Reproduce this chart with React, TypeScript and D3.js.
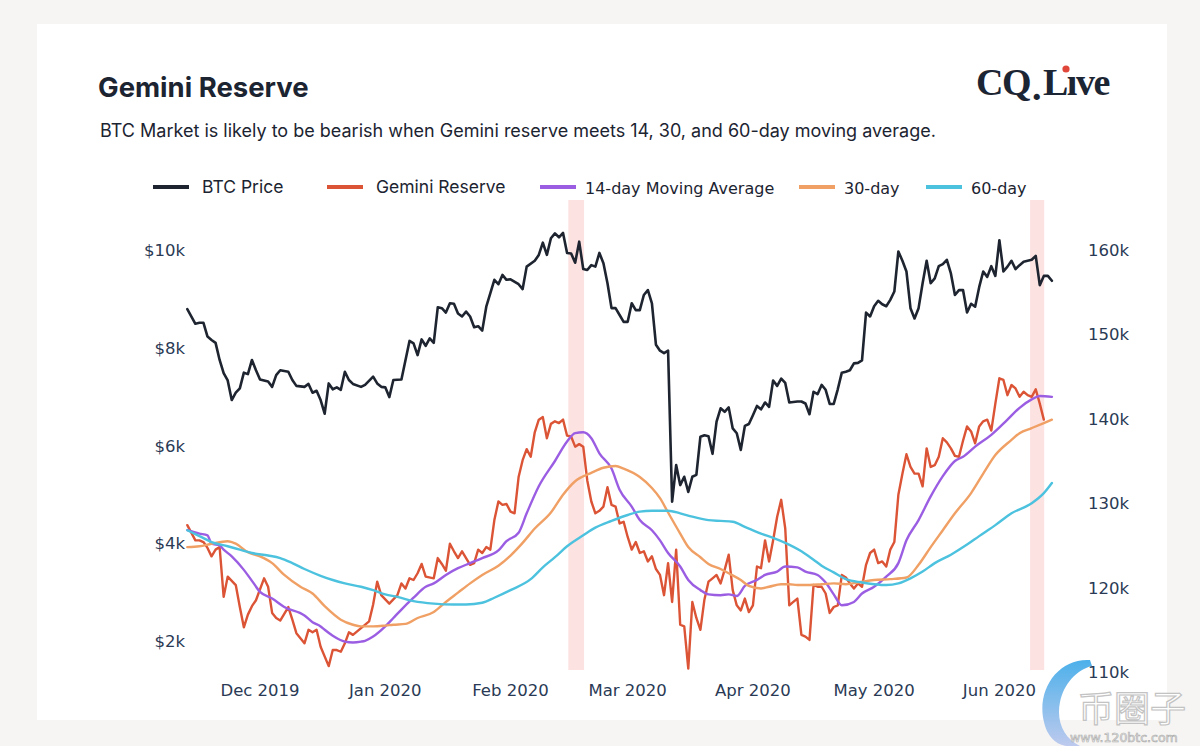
import React from "react";
import * as d3 from "d3";

// ---------- DATA (day offset from 2019-11-13, value) ----------
const START = Date.UTC(2019, 10, 13);

// BTC price, thousands of USD
const btcPrice: [number, number][] = [
  [0, 8.79], [2, 8.49], [3, 8.51], [4, 8.51], [5, 8.23], [6, 8.16], [7, 8.1], [8, 7.75], [9, 7.48], [10, 7.33],
  [11, 6.93], [12, 7.08], [13, 7.17], [14, 7.49], [15, 7.46], [16, 7.75], [17, 7.54], [18, 7.35], [20, 7.31],
  [21, 7.2], [22, 7.44], [23, 7.54], [25, 7.51], [26, 7.34], [27, 7.22], [29, 7.2], [30, 7.26], [31, 7.08],
  [32, 7.12], [33, 6.93], [34, 6.65], [35, 7.27], [36, 7.15], [37, 7.19], [38, 7.14], [39, 7.51], [40, 7.34],
  [41, 7.26], [43, 7.2], [44, 7.24], [46, 7.41], [47, 7.27], [48, 7.2], [49, 7.19], [50, 6.99], [51, 7.34],
  [53, 7.35], [55, 8.14], [56, 8.09], [57, 7.85], [58, 8.17], [59, 8.04], [60, 8.19], [61, 8.1], [62, 8.83],
  [63, 8.81], [64, 8.72], [65, 8.91], [66, 8.9], [67, 8.7], [68, 8.64], [69, 8.74], [70, 8.64], [71, 8.42],
  [72, 8.44], [73, 8.35], [74, 8.84], [76, 9.39], [77, 9.3], [78, 9.49], [79, 9.39], [80, 9.4], [82, 9.3],
  [83, 9.2], [84, 9.66], [86, 9.78], [87, 9.9], [88, 10.15], [89, 9.9], [90, 10.24], [91, 10.34], [92, 10.26],
  [93, 10.35], [94, 9.94], [95, 9.93], [96, 9.74], [97, 10.17], [98, 9.61], [99, 9.59], [100, 9.69], [101, 9.66],
  [102, 9.94], [103, 9.73], [104, 9.32], [105, 8.81], [106, 8.81], [107, 8.67], [108, 8.53], [109, 8.53],
  [110, 8.91], [111, 8.77], [112, 8.77], [113, 9.08], [114, 9.18], [115, 8.91], [116, 8.06], [117, 7.94],
  [118, 7.89], [119, 7.94], [120, 4.85], [121, 5.6], [122, 5.19], [123, 5.36], [124, 5.05], [125, 5.36],
  [126, 5.4], [127, 6.18], [128, 6.21], [129, 6.19], [130, 5.83], [131, 6.49], [132, 6.76], [133, 6.69],
  [134, 6.78], [135, 6.35], [136, 6.25], [137, 5.91], [138, 6.4], [139, 6.44], [140, 6.62], [141, 6.81],
  [142, 6.74], [143, 6.88], [144, 6.79], [145, 7.33], [146, 7.22], [147, 7.37], [148, 7.28], [149, 6.88],
  [151, 6.9], [152, 6.9], [153, 6.86], [154, 6.64], [155, 7.1], [156, 7.05], [157, 7.24], [158, 7.14],
  [159, 6.85], [160, 6.85], [161, 7.15], [162, 7.49], [163, 7.51], [164, 7.54], [165, 7.68], [166, 7.69],
  [167, 7.74], [168, 8.72], [169, 8.64], [170, 8.85], [171, 8.96], [172, 8.89], [173, 8.85], [174, 8.98],
  [175, 9.15], [176, 9.97], [177, 9.78], [178, 9.56], [179, 8.81], [180, 8.6], [181, 8.81], [182, 9.32],
  [183, 9.78], [184, 9.32], [185, 9.42], [186, 9.67], [187, 9.71], [188, 9.8], [189, 9.52], [190, 9.08],
  [191, 9.18], [192, 9.18], [193, 8.72], [194, 8.9], [195, 8.84], [196, 9.24], [197, 9.56], [198, 9.45],
  [199, 9.67], [200, 9.47], [201, 10.2], [202, 9.56], [203, 9.66], [204, 9.78], [205, 9.61], [206, 9.69],
  [207, 9.76], [208, 9.78], [209, 9.8], [210, 9.88], [211, 9.28], [212, 9.47], [213, 9.47], [214, 9.37],
];

// Gemini reserve, thousands of BTC
const geminiReserve: [number, number][] = [
  [0, 127.4], [2, 125.6], [3, 125.6], [4, 125.4], [5, 124.7], [6, 123.7], [7, 124.5], [8, 124.8], [9, 118.9],
  [10, 121.3], [12, 120.3], [13, 117.7], [14, 115.3], [15, 116.8], [16, 117.8], [17, 118.5], [19, 121.1],
  [20, 120.1], [21, 117.0], [22, 116.4], [23, 116.1], [25, 117.7], [26, 116.2], [27, 114.6], [29, 113.4],
  [30, 115.0], [31, 114.7], [32, 115.0], [33, 113.0], [35, 110.7], [36, 112.6], [37, 112.6], [38, 112.4],
  [39, 113.4], [40, 114.7], [41, 114.4], [43, 115.2], [45, 116.0], [46, 118.0], [47, 120.7], [48, 119.1],
  [50, 118.1], [52, 119.1], [53, 120.5], [54, 119.9], [55, 121.1], [56, 120.9], [57, 121.7], [58, 122.8],
  [59, 121.3], [61, 121.1], [62, 123.5], [63, 122.8], [64, 122.0], [65, 125.2], [66, 124.3], [67, 123.5],
  [68, 124.3], [69, 123.5], [70, 122.7], [71, 122.9], [72, 124.5], [73, 124.1], [74, 124.8], [75, 124.5],
  [76, 128.0], [77, 130.2], [78, 129.8], [79, 129.9], [80, 129.0], [81, 128.8], [82, 133.1], [83, 135.1],
  [84, 136.4], [85, 135.5], [86, 138.4], [87, 139.9], [88, 140.2], [89, 137.7], [90, 139.4], [91, 139.7],
  [92, 139.5], [93, 139.9], [94, 138.0], [95, 137.9], [96, 136.7], [97, 137.0], [98, 136.7], [99, 132.7],
  [100, 130.2], [101, 128.8], [102, 129.1], [103, 129.6], [104, 131.9], [105, 129.8], [106, 129.6],
  [107, 127.6], [108, 127.8], [109, 126.0], [110, 124.5], [111, 125.4], [112, 124.1], [113, 124.3],
  [114, 123.1], [115, 123.7], [116, 122.2], [117, 121.5], [118, 119.1], [119, 122.9], [120, 118.3],
  [121, 124.5], [122, 115.6], [123, 115.4], [124, 110.4], [125, 118.3], [126, 116.4], [127, 115.0],
  [128, 118.6], [129, 120.7], [130, 121.1], [131, 121.5], [132, 120.5], [133, 122.1], [134, 123.9],
  [135, 119.7], [136, 117.9], [137, 117.3], [138, 118.7], [139, 117.1], [140, 117.9], [141, 122.5],
  [142, 122.3], [143, 125.6], [144, 123.1], [145, 125.6], [146, 128.4], [147, 130.4], [148, 127.0],
  [149, 117.9], [150, 118.3], [151, 118.7], [152, 114.4], [153, 114.2], [154, 113.8], [155, 120.3],
  [156, 120.1], [157, 120.1], [158, 119.3], [159, 117.0], [160, 117.7], [161, 117.9], [162, 121.5],
  [163, 121.2], [164, 120.5], [165, 119.9], [166, 120.5], [167, 120.1], [168, 122.7], [169, 124.1],
  [170, 124.5], [171, 122.9], [172, 123.1], [173, 122.5], [174, 124.5], [175, 125.4], [176, 131.0],
  [177, 133.5], [178, 135.8], [179, 134.3], [180, 133.5], [181, 133.5], [182, 132.0], [183, 136.5],
  [184, 134.3], [185, 134.5], [186, 135.5], [187, 137.7], [188, 137.2], [189, 136.5], [190, 135.6],
  [191, 135.5], [192, 137.4], [193, 139.1], [194, 138.5], [195, 137.1], [196, 139.1], [197, 139.7],
  [198, 139.9], [199, 138.6], [200, 141.8], [201, 144.8], [202, 144.6], [203, 142.8], [204, 144.0],
  [205, 143.6], [206, 142.6], [207, 143.2], [208, 142.8], [209, 142.6], [210, 143.5], [211, 141.8],
  [212, 139.9],
];

const ma14: [number, number][] = [
  [0, 126.8], [3, 126.4], [5, 126.2], [6, 125.2], [8, 125.0], [9, 124.5], [11, 123.7], [14, 122.1],
  [16, 120.8], [18, 119.5], [21, 118.7], [24, 117.7], [29, 116.7], [31, 115.9], [33, 115.4], [34, 115.0],
  [36, 114.3], [39, 113.6], [41, 113.5], [43, 113.6], [44, 113.7], [46, 114.2], [49, 115.4], [51, 116.4],
  [53, 117.4], [56, 118.8], [59, 120.1], [61, 120.5], [64, 121.5], [67, 122.3], [70, 122.9], [73, 123.5],
  [77, 124.4], [79, 125.5], [82, 126.5], [84, 128.8], [87, 132.0], [91, 135.0], [94, 137.3], [96, 138.3],
  [98, 138.4], [100, 137.7], [102, 135.9], [105, 134.1], [107, 131.6], [110, 129.6], [112, 128.0],
  [115, 126.8], [117, 125.6], [119, 124.1], [122, 122.5], [124, 120.9], [127, 119.7], [129, 119.2],
  [132, 119.1], [134, 119.2], [136, 119.0], [138, 120.2], [141, 120.9], [143, 121.5], [146, 121.9],
  [148, 122.5], [151, 122.4], [153, 121.9], [156, 121.5], [158, 120.6], [160, 119.2], [162, 117.9],
  [165, 118.3], [167, 119.3], [170, 120.1], [173, 121.3], [176, 122.9], [178, 125.6], [181, 128.0],
  [184, 130.8], [187, 133.2], [190, 135.0], [192, 135.5], [195, 136.7], [199, 138.1], [203, 139.9],
  [206, 141.3], [209, 142.3], [211, 142.7], [214, 142.6],
];

const ma30: [number, number][] = [
  [0, 124.8], [3, 124.9], [6, 125.2], [10, 125.5], [12, 125.2], [15, 124.2], [18, 123.7], [21, 122.9],
  [24, 121.5], [28, 120.1], [31, 119.3], [34, 117.8], [38, 116.2], [41, 115.6], [43, 115.4], [46, 115.4],
  [49, 115.5], [51, 115.6], [54, 115.7], [57, 116.4], [61, 117.1], [64, 118.3], [67, 119.4], [70, 120.5],
  [73, 121.5], [77, 122.6], [80, 123.8], [83, 125.3], [86, 127.0], [90, 128.9], [93, 131.0], [96, 132.6],
  [100, 133.6], [103, 134.2], [106, 134.4], [108, 134.1], [112, 133.1], [115, 131.8], [117, 130.6],
  [119, 128.9], [122, 126.4], [124, 124.8], [127, 123.6], [129, 122.8], [132, 122.2], [134, 121.7],
  [137, 120.9], [139, 120.2], [142, 119.9], [144, 120.1], [147, 120.4], [149, 120.4], [151, 120.3],
  [154, 120.3], [157, 120.4], [160, 120.5], [163, 120.4], [166, 120.6], [170, 120.9], [174, 121.0],
  [178, 121.2], [181, 122.7], [184, 124.8], [187, 126.8], [190, 128.8], [194, 131.2], [197, 133.5],
  [200, 135.7], [204, 137.5], [206, 138.3], [209, 138.9], [212, 139.5], [214, 139.9],
];

const ma60: [number, number][] = [
  [0, 126.8], [3, 126.1], [6, 125.4], [10, 124.9], [13, 124.5], [16, 124.1], [20, 123.8], [23, 123.5],
  [26, 122.9], [29, 122.2], [33, 121.4], [36, 120.9], [39, 120.5], [43, 120.1], [46, 119.7], [49, 119.2],
  [52, 118.9], [56, 118.4], [61, 118.1], [66, 118.0], [69, 118.0], [73, 118.2], [76, 118.8], [80, 119.7],
  [85, 121.0], [88, 122.4], [91, 123.6], [94, 124.9], [98, 126.2], [101, 127.1], [105, 127.9], [109, 128.6],
  [112, 129.0], [115, 129.1], [119, 129.1], [122, 128.8], [125, 128.4], [129, 128.0], [132, 127.9],
  [135, 127.8], [138, 127.2], [142, 126.4], [145, 125.9], [148, 125.3], [152, 124.3], [155, 123.3],
  [157, 122.6], [160, 121.8], [163, 121.0], [167, 120.6], [170, 120.4], [173, 120.3], [176, 120.5],
  [179, 121.1], [182, 121.9], [185, 122.9], [189, 123.9], [193, 125.1], [196, 126.1], [200, 127.4],
  [204, 128.8], [209, 130.0], [212, 131.2], [214, 132.4],
];

// highlighted periods (day offsets)
const bands: [number, number][] = [[94.3, 98.2], [208.6, 212.1]];

const leftTicks = [2, 4, 6, 8, 10];
const rightTicks = [110, 120, 130, 140, 150, 160];
const monthTicks = ["2019-12-01", "2020-01-01", "2020-02-01", "2020-03-01", "2020-04-01", "2020-05-01", "2020-06-01"];

const legendItems = [
  { label: "BTC Price", color: "#1e2530", x: 153, font: "Inter" },
  { label: "Gemini Reserve", color: "#dc5436", x: 327, font: "Inter" },
  { label: "14-day Moving Average", color: "#9b5ee3", x: 540, font: "DejaVu Sans" },
  { label: "30-day", color: "#f0a064", x: 799, font: "DejaVu Sans" },
  { label: "60-day", color: "#4cc2df", x: 926, font: "DejaVu Sans" },
];

// ---------- CHART ----------
const W = 1200, H = 746;
const dayToDate = (d: number) => new Date(START + d * 86400000);

export default function App() {
  const x = d3.scaleUtc().domain([dayToDate(0), dayToDate(214)]).range([187.3, 1051.9]);
  const yL = d3.scaleLinear().domain([0, 10]).range([738.75, 250]);
  const yR = d3.scaleLinear().domain([110, 160]).range([672, 250]);
  const plotTop = 200, plotBottom = 672;

  const lineL = d3.line<[number, number]>().x(d => x(dayToDate(d[0]))).y(d => yL(d[1]));
  const lineR = d3.line<[number, number]>().x(d => x(dayToDate(d[0]))).y(d => yR(d[1]));
  const smoothR = d3.line<[number, number]>().x(d => x(dayToDate(d[0]))).y(d => yR(d[1])).curve(d3.curveMonotoneX);

  const tickFont = "DejaVu Sans, Verdana, sans-serif";
  const tickColor = "#2a3a55";
  const fmtMonth = d3.utcFormat("%b %Y");

  return (
    <svg width={W} height={H} style={{ position: "absolute", left: 0, top: 0 }} xmlns="http://www.w3.org/2000/svg">
      <defs>
        <clipPath id="plot">
          <rect x={150} y={plotTop} width={950} height={plotBottom - plotTop + 4} />
        </clipPath>
        <linearGradient id="wm" x1="0" y1="0" x2="0" y2="1">
          <stop offset="0" stopColor="#3aa8e8" />
          <stop offset="1" stopColor="#b8c6ee" />
        </linearGradient>
      </defs>
      <rect x={0} y={0} width={W} height={H} fill="#f6f5f3" />
      <rect x={37} y={24} width={1130} height={696} fill="#ffffff" />

      {/* title & subtitle */}
      <text x={98} y={97} fontFamily="Inter, sans-serif" fontWeight={700} fontSize={27.5} fill="#1c2431">Gemini Reserve</text>
      <text x={100} y={137} fontFamily="Inter, sans-serif" fontSize={18} fill="#1c2431">
        BTC Market is likely to be bearish when Gemini reserve meets 14, 30, and 60-day moving average.
      </text>

      {/* logo */}
      <text x={976} y={95} fontFamily="Liberation Serif, serif" fontWeight={700} fontSize={38} fill="#1c2533" letterSpacing={-1.5}>
        CQ<tspan dx={2} dy={5}>.</tspan><tspan dy={-5} dx={3}>L</tspan>ı<tspan>ve</tspan>
      </text>
      <circle cx={1066} cy={69} r={3.6} fill="#e0473a" />

      {/* legend */}
      {legendItems.map((it, i) => (
        <g key={it.label}>
          <line x1={it.x} x2={it.x + 36} y1={187} y2={187} stroke={it.color} strokeWidth={4} />
          <text
            x={it.x + (i < 2 ? 49 : 45)}
            y={i < 2 ? 193 : 194}
            fontFamily={it.font + ", sans-serif"}
            fontSize={i < 2 ? 17.5 : 16}
            fill="#1c2431"
          >
            {it.label}
          </text>
        </g>
      ))}

      {/* highlighted bands */}
      {bands.map((b, i) => (
        <rect key={i} x={x(dayToDate(b[0]))} y={plotTop} width={x(dayToDate(b[1])) - x(dayToDate(b[0]))}
          height={470} fill="#fde2e2" />
      ))}

      {/* series */}
      <g clipPath="url(#plot)" fill="none" strokeLinejoin="round" strokeLinecap="round">
        <path d={lineL(btcPrice) ?? ""} stroke="#1e2530" strokeWidth={2.6} />
        <path d={lineR(geminiReserve) ?? ""} stroke="#dc5436" strokeWidth={2.4} />
        <path d={smoothR(ma14) ?? ""} stroke="#9b5ee3" strokeWidth={2.4} />
        <path d={smoothR(ma30) ?? ""} stroke="#f0a064" strokeWidth={2.4} />
        <path d={smoothR(ma60) ?? ""} stroke="#4cc2df" strokeWidth={2.4} />
      </g>

      {/* left axis */}
      {leftTicks.map(t => (
        <text key={t} x={185} y={yL(t) + 6} textAnchor="end" fontFamily={tickFont} fontSize={16.5} fill={tickColor}>
          {"$" + t + "k"}
        </text>
      ))}
      {/* right axis */}
      {rightTicks.map(t => (
        <text key={t} x={1088} y={yR(t) + 6} fontFamily={tickFont} fontSize={16.5} fill={tickColor}>
          {t + "k"}
        </text>
      ))}
      {/* x axis */}
      {monthTicks.map(m => {
        const d = new Date(m + "T00:00:00Z");
        return (
          <text key={m} x={x(d)} y={696} textAnchor="middle" fontFamily={tickFont} fontSize={16.5} fill={tickColor}>
            {fmtMonth(d)}
          </text>
        );
      })}

      {/* watermark */}
      <g opacity={0.9}>
        <path d="M1090,660 C1058,658 1036,690 1044,722 C1048,740 1060,746 1068,746 L1080,746 C1064,738 1056,722 1060,702 C1064,684 1076,670 1092,666 Z"
          fill="url(#wm)" />
        <text x={1078} y={722} fontFamily="Noto Sans CJK SC, sans-serif" fontSize={36} fill="#ffffff" stroke="#bdbdbd" strokeWidth={1.2}>
          币圈子
        </text>
        <text x={1070} y={742} fontFamily="DejaVu Sans, sans-serif" fontSize={12.5} fill="#ffffff" stroke="#a8a8a8" strokeWidth={0.7}>
          www.120btc.com
        </text>
      </g>
    </svg>
  );
}
